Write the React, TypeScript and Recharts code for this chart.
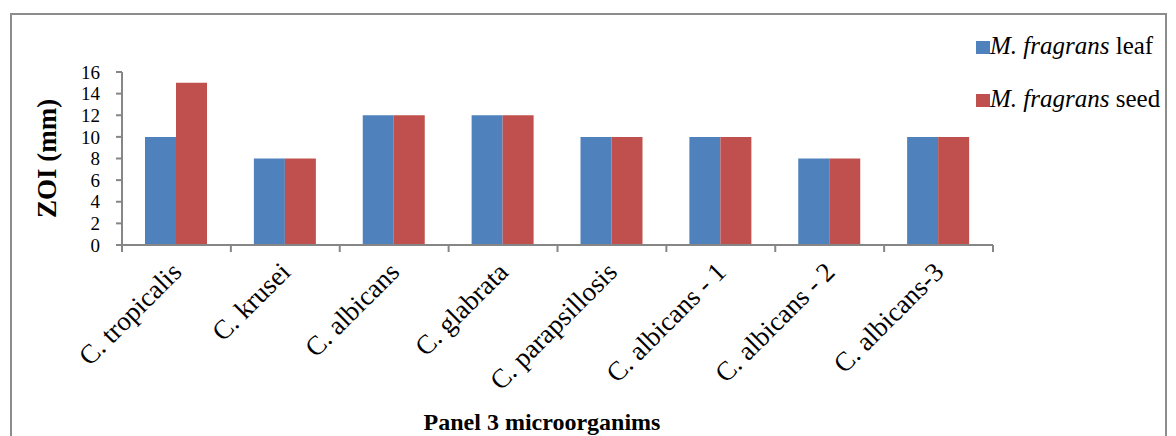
import React from "react";
import { BarChart, Bar, XAxis, YAxis, Label } from "recharts";

const categories = [
  "C. tropicalis",
  "C. krusei",
  "C. albicans",
  "C. glabrata",
  "C. parapsillosis",
  "C. albicans - 1",
  "C. albicans - 2",
  "C. albicans-3",
];
const leafValues = [10, 8, 12, 12, 10, 10, 8, 10];
const seedValues = [15, 8, 12, 12, 10, 10, 8, 10];
const yTicks = [0, 2, 4, 6, 8, 10, 12, 14, 16];

const seriesNames = ["leaf", "seed"];
const seriesColors = ["#4F81BD", "#C0504D"];

const data = categories.map((name, i) => ({
  name,
  leaf: leafValues[i],
  seed: seedValues[i],
}));

const FONT = "'Liberation Serif', 'Times New Roman', serif";
const AXIS = "#868686";
const W = 1176;
const H = 436;
const PLOT_LEFT = 122;
const PLOT_RIGHT = 993;
const PLOT_TOP = 72;
const PLOT_BOTTOM = 245;
const BAND = (PLOT_RIGHT - PLOT_LEFT) / categories.length;

function CategoryTick(props: any) {
  const { x, payload, index } = props;
  const ty = PLOT_BOTTOM + 22;
  const tx = x;
  return (
    <g>
      <line x1={x - BAND / 2} x2={x - BAND / 2} y1={PLOT_BOTTOM} y2={PLOT_BOTTOM + 7} stroke={AXIS} strokeWidth={2} />
      {index === categories.length - 1 && (
        <line x1={x + BAND / 2} x2={x + BAND / 2} y1={PLOT_BOTTOM} y2={PLOT_BOTTOM + 7} stroke={AXIS} strokeWidth={2} />
      )}
      <text
        x={tx}
        y={ty}
        dy="0.35em"
        textAnchor="end"
        transform={`rotate(-45, ${tx}, ${ty})`}
        fontFamily={FONT}
        fontSize={27}
        fill="#000"
      >
        {payload.value}
      </text>
    </g>
  );
}

function LegendBox() {
  return (
    <div style={{ position: "absolute", left: 976, top: 32, fontFamily: FONT, fontSize: 25, color: "#000" }}>
      {seriesNames.map((s, i) => (
        <div key={s} style={{ display: "flex", alignItems: "flex-end", height: 28, marginBottom: i === 0 ? 25 : 0 }}>
          <span style={{ display: "inline-block", width: 14, height: 13, background: seriesColors[i], marginBottom: 6 }} />
          <span style={{ lineHeight: "28px" }}>
            <i>M. fragrans</i> {s}
          </span>
        </div>
      ))}
    </div>
  );
}

export default function App() {
  return (
    <div style={{ position: "absolute", left: 0, top: 0, width: W, height: H, background: "#fff", overflow: "hidden" }}>
      <div
        style={{
          position: "absolute",
          left: 10,
          top: 13,
          width: 1153,
          height: 440,
          border: "2px solid #8c8c8c",
          borderBottom: "none",
        }}
      />
      <div style={{ position: "absolute", left: 0, top: 0 }}>
        <BarChart
          width={W}
          height={H}
          data={data}
          margin={{ top: PLOT_TOP, right: W - PLOT_RIGHT, bottom: 0, left: 0 }}
          barSize={31}
          barGap={0}
        >
          <XAxis
            dataKey="name"
            interval={0}
            height={H - PLOT_BOTTOM}
            axisLine={{ stroke: AXIS, strokeWidth: 2 }}
            tickLine={false}
            tick={<CategoryTick />}
          >
            <Label
              content={() => (
                <text x={542} y={430} textAnchor="middle" fontFamily={FONT} fontSize={24} fontWeight="bold" fill="#000">
                  Panel 3 microorganims
                </text>
              )}
            />
          </XAxis>
          <YAxis
            width={PLOT_LEFT}
            domain={[0, 16]}
            ticks={yTicks}
            interval={0}
            axisLine={{ stroke: AXIS, strokeWidth: 2 }}
            tickLine={{ stroke: AXIS, strokeWidth: 2 }}
            tickSize={6}
            tickMargin={16}
            tick={{ fill: "#000", fontFamily: FONT, fontSize: 19 }}
          >
            <Label
              content={() => (
                <text
                  x={47}
                  y={(PLOT_TOP + PLOT_BOTTOM) / 2}
                  textAnchor="middle"
                  dominantBaseline="central"
                  transform={`rotate(-90, 47, ${(PLOT_TOP + PLOT_BOTTOM) / 2})`}
                  fontFamily={FONT}
                  fontSize={27}
                  fontWeight="bold"
                  fill="#000"
                >
                  ZOI (mm)
                </text>
              )}
            />
          </YAxis>
          <Bar dataKey="leaf" fill={seriesColors[0]} isAnimationActive={false} />
          <Bar dataKey="seed" fill={seriesColors[1]} isAnimationActive={false} />
        </BarChart>
      </div>
      <LegendBox />
    </div>
  );
}
